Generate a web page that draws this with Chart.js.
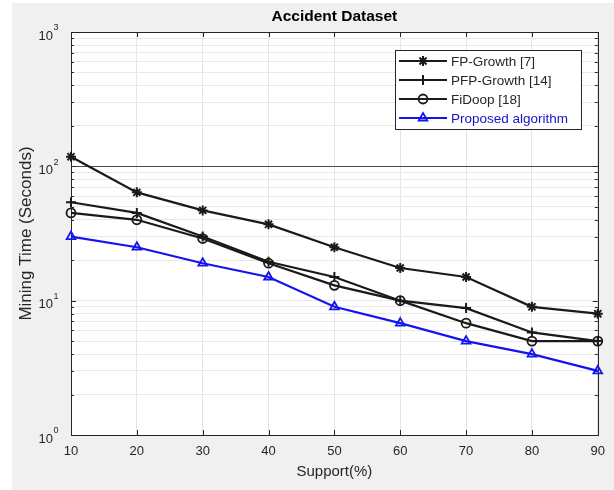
<!DOCTYPE html>
<html>
<head>
<meta charset="utf-8">
<script src="https://cdn.jsdelivr.net/npm/chart.js@4.4.1/dist/chart.umd.min.js"></script>
<style>
  html, body { margin: 0; padding: 0; background: #ffffff; }
  #wrap { width: 614px; height: 490px; position: relative; }
</style>
</head>
<body>
<div id="wrap"><canvas id="c" width="614" height="490"></canvas></div>
<script>
// ---- data ----
const support = [10, 20, 30, 40, 50, 60, 70, 80, 90];
const fpGrowth = [118, 64, 47, 37, 25, 17.5, 15, 9, 8];
const pfpGrowth = [54, 45, 30, 19.5, 15, 10, 8.8, 5.8, 5];
const fiDoop = [45, 40, 29, 19, 13, 10, 6.8, 5, 5];
const proposed = [30, 25, 19, 15, 9, 6.8, 5, 4, 3];
const seriesNames = ['FP-Growth [7]', 'PFP-Growth [14]', 'FiDoop [18]', 'Proposed algorithm'];
const yMajorTicks = [1, 10, 100, 1000];
const yExponents = ['0', '1', '2', '3'];
const xTicks = [10, 20, 30, 40, 50, 60, 70, 80, 90];

const FONT = "'Liberation Sans', Arial, Helvetica, sans-serif";
const BLACK = '#1a1a1a';
const BLUE = '#1414f0';

function pts(arr) { return support.map((x, i) => ({ x: x, y: arr[i] })); }

const styles = [
  { color: BLACK, pointStyle: 'star', radius: 5, bw: 2 },
  { color: BLACK, pointStyle: 'cross', radius: 5, bw: 2 },
  { color: BLACK, pointStyle: 'circle', radius: 4.5, bw: 1.8 },
  { color: BLUE, pointStyle: 'triangle', radius: 5, bw: 1.8 }
];
const allSeries = [fpGrowth, pfpGrowth, fiDoop, proposed];

const datasets = allSeries.map((s, i) => ({
  label: seriesNames[i],
  data: pts(s),
  borderColor: styles[i].color,
  backgroundColor: 'rgba(0,0,0,0)',
  borderWidth: 2.2,
  pointStyle: styles[i].pointStyle,
  pointRadius: styles[i].radius,
  pointBorderWidth: styles[i].bw,
  pointBorderColor: styles[i].color,
  pointBackgroundColor: 'rgba(0,0,0,0)',
  tension: 0,
  fill: false,
  clip: false
}));

// minor log ticks (grid positions, not data)
function logTicks() {
  const t = [];
  for (let d = 0; d < yMajorTicks.length; d++) {
    const base = yMajorTicks[d];
    t.push({ value: base, major: true });
    if (d < yMajorTicks.length - 1) {
      for (let m = 2; m <= 9; m++) t.push({ value: base * m, major: false });
    }
  }
  return t;
}

const decor = {
  id: 'decor',
  beforeDraw(chart) {
    const ctx = chart.ctx;
    const a = chart.chartArea;
    ctx.save();
    ctx.fillStyle = '#ffffff';
    ctx.fillRect(0, 0, chart.width, chart.height);
    ctx.fillStyle = '#f0f0f0';
    ctx.fillRect(12, 3, chart.width - 12, chart.height - 3);
    ctx.fillStyle = '#ffffff';
    ctx.fillRect(a.left, a.top, a.right - a.left, a.bottom - a.top);
    ctx.restore();
  },
  beforeDatasetsDraw(chart) {
    const ctx = chart.ctx;
    const a = chart.chartArea;
    const xs = chart.scales.x, ys = chart.scales.y;
    ctx.save();
    ctx.strokeStyle = '#262626';
    ctx.lineWidth = 1;
    ctx.strokeRect(Math.round(a.left) + 0.5, Math.round(a.top) + 0.5,
                   Math.round(a.right - a.left), Math.round(a.bottom - a.top));
    ctx.beginPath();
    xTicks.forEach(v => {
      const px = Math.round(xs.getPixelForValue(v)) + 0.5;
      ctx.moveTo(px, a.bottom); ctx.lineTo(px, a.bottom - 5);
      ctx.moveTo(px, a.top); ctx.lineTo(px, a.top + 5);
    });
    logTicks().forEach(t => {
      const py = Math.round(ys.getPixelForValue(t.value)) + 0.5;
      const len = t.major ? 5 : 3;
      ctx.moveTo(a.left, py); ctx.lineTo(a.left + len, py);
      ctx.moveTo(a.right, py); ctx.lineTo(a.right - len, py);
    });
    ctx.stroke();
    ctx.restore();
  },
  afterDraw(chart) {
    const ctx = chart.ctx;
    const a = chart.chartArea;
    const ys = chart.scales.y;
    ctx.save();
    // y tick labels with superscripts
    ctx.fillStyle = '#262626';
    yMajorTicks.forEach((v, i) => {
      const py = ys.getPixelForValue(v);
      ctx.font = '13px ' + FONT;
      ctx.textAlign = 'right';
      ctx.textBaseline = 'middle';
      ctx.fillText('10', 53, py + 4);
      ctx.font = '9px ' + FONT;
      ctx.textAlign = 'left';
      ctx.fillText(yExponents[i], 53.5, py - 4);
    });
    // title
    ctx.fillStyle = '#000000';
    ctx.font = 'bold 15.5px ' + FONT;
    ctx.textAlign = 'center';
    ctx.textBaseline = 'middle';
    ctx.fillText('Accident Dataset', (a.left + a.right) / 2, 17);
    // legend
    const lx = 395, ly = 50, lw = 186, lh = 79;
    ctx.fillStyle = '#ffffff';
    ctx.fillRect(lx, ly, lw, lh);
    ctx.strokeStyle = '#262626';
    ctx.lineWidth = 1;
    ctx.strokeRect(lx + 0.5, ly + 0.5, lw, lh);
    chart.data.datasets.forEach((ds, i) => {
      const y = ly + 11 + i * 19;
      ctx.strokeStyle = ds.borderColor;
      ctx.lineWidth = 2;
      ctx.beginPath();
      ctx.moveTo(lx + 4, y); ctx.lineTo(lx + 52, y);
      ctx.stroke();
      ctx.lineWidth = ds.pointBorderWidth;
      ctx.fillStyle = 'rgba(0,0,0,0)';
      Chart.helpers.drawPoint(ctx, {
        pointStyle: ds.pointStyle, radius: ds.pointRadius,
        borderWidth: ds.pointBorderWidth, rotation: 0
      }, lx + 28, y);
      ctx.fillStyle = ds.borderColor === BLUE ? '#1414c8' : '#262626';
      ctx.font = '13.5px ' + FONT;
      ctx.textAlign = 'left';
      ctx.textBaseline = 'middle';
      ctx.fillText(ds.label, lx + 56, y + 1);
    });
    ctx.restore();
  }
};

new Chart(document.getElementById('c'), {
  type: 'line',
  data: { datasets: datasets },
  options: {
    responsive: false,
    animation: false,
    layout: { padding: { top: 32, right: 15, left: 0, bottom: 0 } },
    plugins: { legend: { display: false }, title: { display: false }, tooltip: { enabled: false } },
    scales: {
      x: {
        type: 'linear',
        min: 10, max: 90,
        afterBuildTicks: s => { s.ticks = xTicks.map(v => ({ value: v })); },
        afterFit: s => { s.height = 55; },
        ticks: { color: '#262626', font: { size: 13, family: FONT }, padding: 9, maxRotation: 0, autoSkip: false },
        grid: { color: '#e4e4e4', lineWidth: 1, drawTicks: false },
        border: { display: false },
        title: { display: true, text: 'Support(%)', color: '#262626',
                 font: { size: 15, family: FONT }, padding: { top: 0, bottom: 9 } }
      },
      y: {
        type: 'logarithmic',
        min: 1, max: 1000,
        afterBuildTicks: s => { s.ticks = logTicks(); },
        afterFit: s => { s.width = 71; },
        ticks: { callback: () => '', autoSkip: false, font: { size: 13, family: FONT } },
        grid: {
          drawTicks: false,
          lineWidth: 1,
          color: c => (c.tick && c.tick.value === 100) ? '#4a4a4a' : '#e8e8e8'
        },
        border: { display: false },
        title: { display: true, text: 'Mining Time (Seconds)', color: '#262626',
                 font: { size: 17, family: FONT }, padding: { top: 16, bottom: 0 } }
      }
    }
  },
  plugins: [decor]
});
</script>
</body>
</html>
